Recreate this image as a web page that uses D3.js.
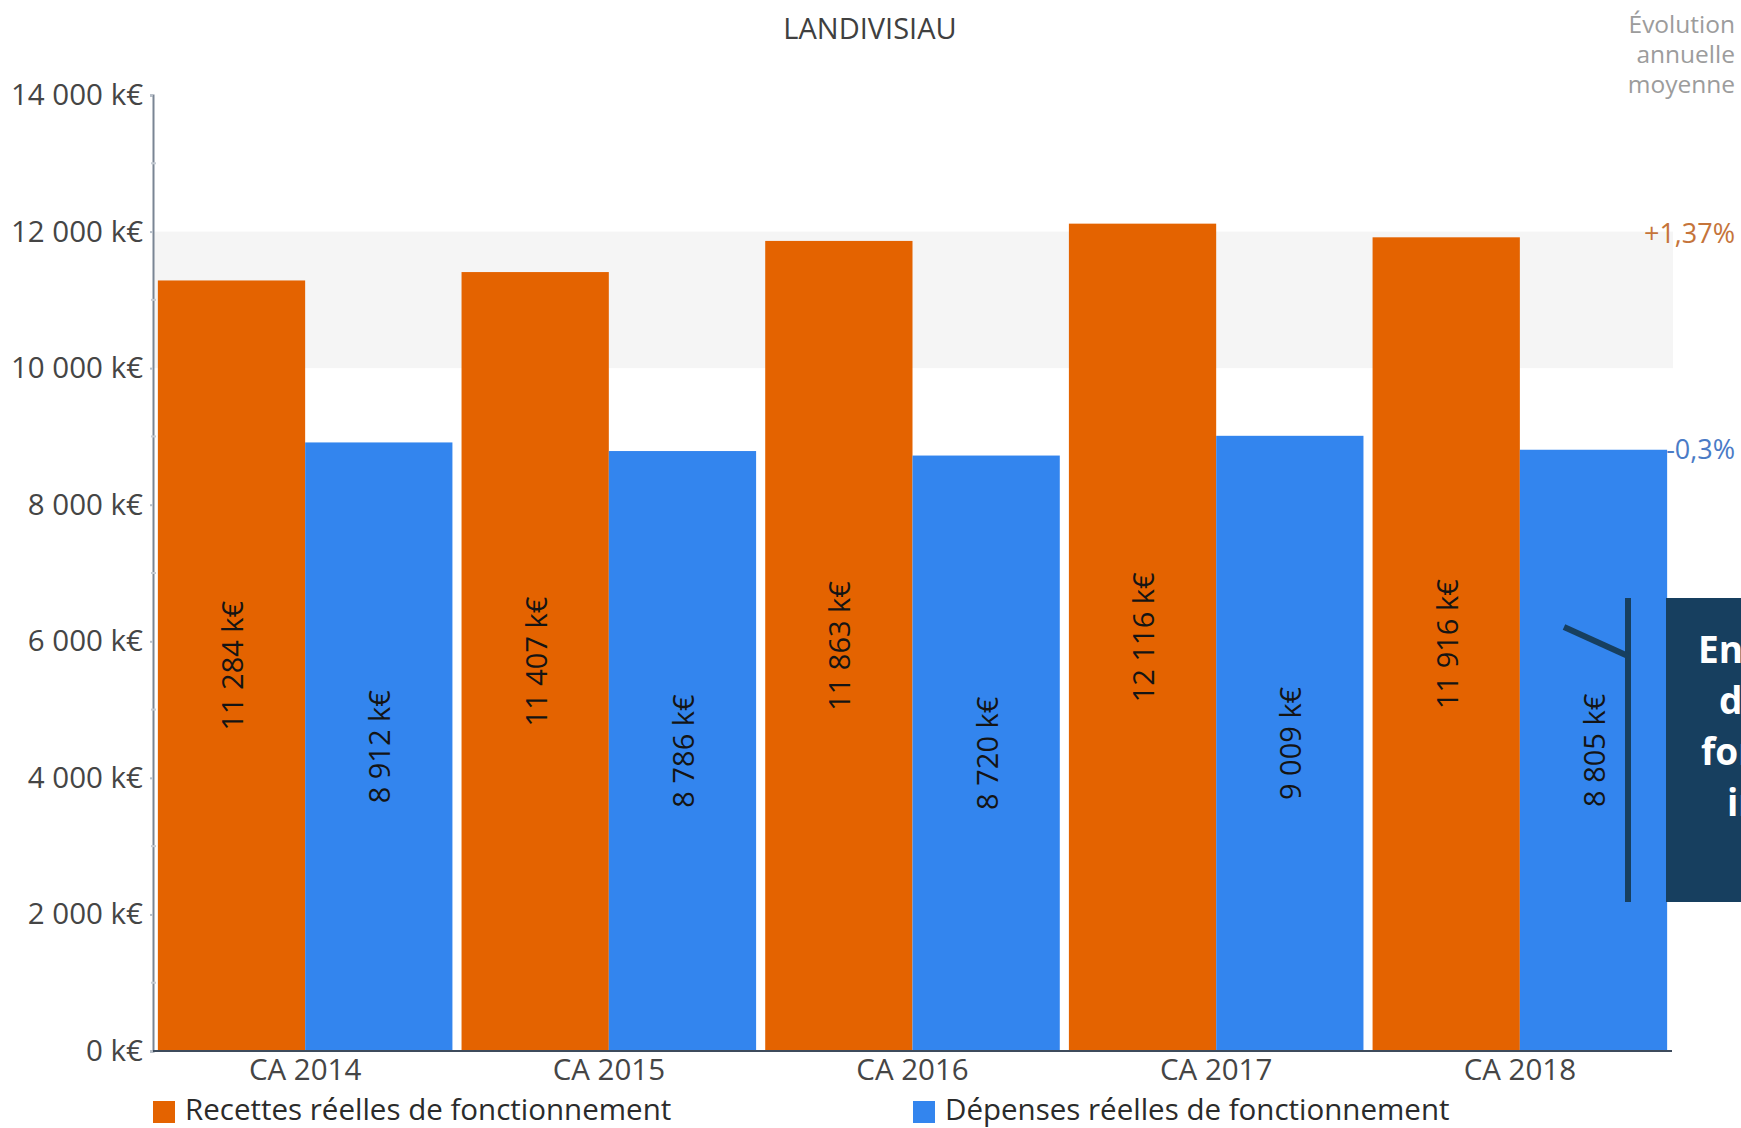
<!DOCTYPE html>
<html lang="fr">
<head>
<meta charset="utf-8">
<title>LANDIVISIAU</title>
<script src="https://cdn.jsdelivr.net/npm/d3@7"></script>
<style>
  html, body { margin: 0; padding: 0; background: #ffffff; overflow: hidden; }
  svg { display: block; font-family: "Open Sans", "Noto Sans", sans-serif; }
</style>
</head>
<body>
<svg id="chart" width="1741" height="1128"></svg>
<script>
// Budget de fonctionnement (k€) par compte administratif
const categories = ["CA 2014", "CA 2015", "CA 2016", "CA 2017", "CA 2018"];
const seriesNames = ["Recettes réelles de fonctionnement", "Dépenses réelles de fonctionnement"];
const recettes = [11284, 11407, 11863, 12116, 11916];
const depenses = [8912, 8786, 8720, 9009, 8805];
const yTickValues = [0, 2000, 4000, 6000, 8000, 10000, 12000, 14000];
const evolution = ["+1,37%", "-0,3%"];
const evolutionTitle = ["Évolution", "annuelle", "moyenne"];
const noteLines = ["En moyenne,", "des recettes en", "forte hausse et des dépenses", "inchangées"];

const colors = ["#e46300", "#3385ee"];
const evoColors = ["#c5743a", "#4a7bc6"];

const W = 1741, H = 1128;
const svg = d3.select("#chart");

const fr = d3.formatLocale({ decimal: ",", thousands: "\u00a0", grouping: [3], currency: ["", "\u00a0k€"] });
const fmt = v => fr.format(",")(v) + "\u00a0k€";

// Scales
const y = d3.scaleLinear().domain([0, 14000]).range([1051, 95]);
const x0 = d3.scaleBand().domain(categories).range([153, 1672]).paddingInner(0.03).paddingOuter(0.016);
const x1 = d3.scaleBand().domain(seriesNames).range([0, x0.bandwidth()]);

const rows = categories.map((c, i) => ({ cat: c, values: [recettes[i], depenses[i]] }));

// Light band between 10 000 and 12 000 k€
svg.append("rect")
  .attr("x", 153).attr("width", 1673 - 153)
  .attr("y", y(12000)).attr("height", y(10000) - y(12000))
  .attr("fill", "#f5f5f5");

// Title
svg.append("text")
  .attr("x", 870).attr("y", 39)
  .attr("text-anchor", "middle")
  .attr("font-size", 29).attr("fill", "#404040")
  .text("LANDIVISIAU");

// Bars
const groups = svg.append("g").selectAll("g")
  .data(rows).join("g")
  .attr("transform", d => `translate(${x0(d.cat)},0)`);

groups.selectAll("rect")
  .data(d => d.values.map((v, k) => ({ key: seriesNames[k], v, k })))
  .join("rect")
  .attr("x", d => x1(d.key))
  .attr("width", x1.bandwidth())
  .attr("y", d => y(d.v))
  .attr("height", d => y(0) - y(d.v))
  .attr("fill", d => colors[d.k]);

// Value labels, rotated, centred in each bar
groups.selectAll("text.val")
  .data(d => d.values.map((v, k) => ({ key: seriesNames[k], v, k })))
  .join("text")
  .attr("class", "val")
  .attr("transform", d => `translate(${x1(d.key) + x1.bandwidth() / 2},${(y(d.v) + y(0)) / 2}) rotate(-90)`)
  .attr("text-anchor", "middle")
  .attr("dominant-baseline", "central")
  .attr("font-size", 29).attr("fill", "#141414")
  .text(d => fmt(d.v));

// Y axis
const yAxis = d3.axisLeft(y).tickValues(yTickValues).tickFormat(fmt).tickSize(3).tickPadding(7);
const gy = svg.append("g").attr("transform", "translate(153,0)").call(yAxis);
gy.select(".domain").attr("stroke", "#7a8594").attr("stroke-width", 2);
gy.selectAll(".tick line").attr("stroke", "#b8c0ca").attr("stroke-width", 2);
gy.selectAll(".tick text").attr("font-size", 29.5).attr("fill", "#454545")
  .attr("font-family", "'Open Sans', sans-serif");

// Minor ticks every 1 000 k€
const minor = d3.range(1000, 14000, 2000);
svg.append("g").selectAll("line").data(minor).join("line")
  .attr("x1", 151).attr("x2", 156)
  .attr("y1", d => y(d)).attr("y2", d => y(d))
  .attr("stroke", "#c6ccd4").attr("stroke-width", 2);

// X axis baseline and category labels
svg.append("line")
  .attr("x1", 153).attr("x2", 1672)
  .attr("y1", y(0)).attr("y2", y(0))
  .attr("stroke", "#3d4b5c").attr("stroke-width", 2);

svg.append("g").selectAll("text").data(categories).join("text")
  .attr("x", d => x0(d) + x0.bandwidth() / 2)
  .attr("y", 1080)
  .attr("text-anchor", "middle")
  .attr("font-size", 29.5).attr("fill", "#454545")
  .text(d => d);

// Legend
const legendX = [153, 913];
const lg = svg.append("g").selectAll("g").data(seriesNames).join("g")
  .attr("transform", (d, i) => `translate(${legendX[i]},1101)`);
lg.append("rect").attr("width", 22).attr("height", 22).attr("fill", (d, i) => colors[i]);
lg.append("text").attr("x", 32).attr("y", 19)
  .attr("font-size", 29.5).attr("fill", "#2b2b2b")
  .text(d => d);

// Average annual change
svg.append("g").selectAll("text").data(evolutionTitle).join("text")
  .attr("x", 1735).attr("y", (d, i) => 33 + i * 30)
  .attr("text-anchor", "end")
  .attr("font-size", 24.5).attr("fill", "#9c9c9c")
  .text(d => d);

const lastR = recettes[recettes.length - 1];
const lastD = depenses[depenses.length - 1];
svg.append("text")
  .attr("x", 1735).attr("y", y(lastR) + 6)
  .attr("text-anchor", "end")
  .attr("font-size", 27).attr("fill", evoColors[0])
  .text(evolution[0]);
svg.append("text")
  .attr("x", 1735).attr("y", y(lastD) + 9)
  .attr("text-anchor", "end")
  .attr("font-size", 27).attr("fill", evoColors[1])
  .text(evolution[1]);

// Callout box with bracket pointer
const note = { x: 1666, top: 598, bottom: 902, bracketX: 1628, color: "#173f5f" };
svg.append("rect")
  .attr("x", note.x).attr("y", note.top)
  .attr("width", W - note.x + 20).attr("height", note.bottom - note.top)
  .attr("fill", note.color);
svg.append("line")
  .attr("x1", note.bracketX).attr("x2", note.bracketX)
  .attr("y1", note.top).attr("y2", note.bottom)
  .attr("stroke", note.color).attr("stroke-width", 6);
svg.append("line")
  .attr("x1", 1564).attr("y1", 627)
  .attr("x2", note.bracketX).attr("y2", 656)
  .attr("stroke", note.color).attr("stroke-width", 6);

const noteX = [1698, 1719, 1701, 1727];
svg.append("g").selectAll("text").data(noteLines).join("text")
  .attr("x", (d, i) => noteX[i])
  .attr("y", (d, i) => 663 + i * 51)
  .attr("font-size", 37).attr("font-weight", "bold").attr("fill", "#ffffff")
  .text(d => d);
</script>
</body>
</html>
